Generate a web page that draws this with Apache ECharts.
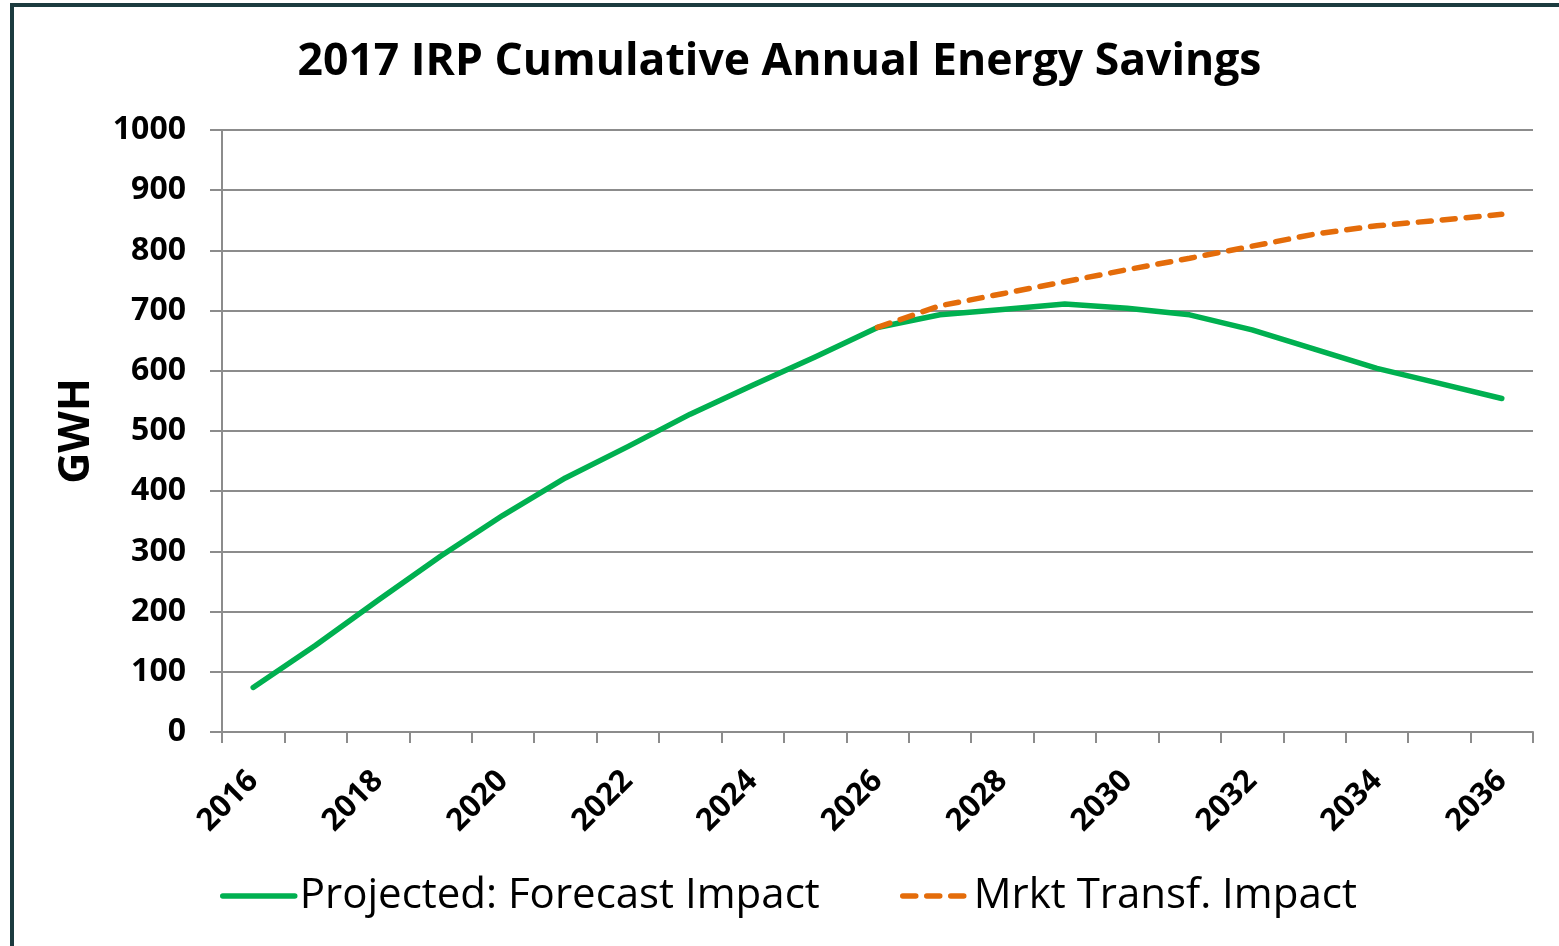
<!DOCTYPE html>
<html>
<head>
    <meta charset="utf-8" />
    <title>2017 IRP Cumulative Annual Energy Savings</title>
    <script src="https://cdn.jsdelivr.net/npm/echarts@6.0.0/dist/echarts.min.js"></script>
    <style>
        * { margin: 0; padding: 0; box-sizing: border-box }
        html, body { width: 1559px; height: 946px; overflow: hidden; background: #fff }
        .frame {
            position: absolute;
            left: 10px;
            top: 3px;
            width: 1600px;
            height: 1000px;
            border-left: 4px solid #1c3b3f;
            border-top: 4px solid #1c3b3f
        }
        #chart { position: absolute; left: 0; top: 0; width: 1559px; height: 946px }
    </style>
</head>
<body>
    <div class="frame"></div>
    <div id="chart"></div>

    <script>
        const years = ['2016', '2017', '2018', '2019', '2020', '2021', '2022', '2023', '2024', '2025', '2026',
            '2027', '2028', '2029', '2030', '2031', '2032', '2033', '2034', '2035', '2036'];
        const forecastImpact = [74, 144, 219, 292, 360, 422, 474, 528, 576, 623, 672,
            693, 702, 711, 704, 693, 668, 636, 604, 579, 554];
        const mrktTransfImpact = [null, null, null, null, null, null, null, null, null, null, 672,
            708, 728, 748, 768, 787, 807, 827, 841, 850, 860];
        const yTicks = { min: 0, max: 1000, interval: 100 };

        const font = "'Open Sans', 'Noto Sans', sans-serif";
        const gridColor = '#8c8c8c';

        const chart = echarts.init(document.getElementById('chart'));

        const legendText = { fontFamily: font, fontSize: 42, color: '#000' };

        const option = {
            animation: false,
            title: {
                text: '2017 IRP Cumulative Annual Energy Savings',
                left: 'center',
                top: 35,
                textStyle: { fontFamily: font, fontSize: 44.5, fontWeight: 'bold', color: '#000' }
            },
            legend: [
                {
                    data: ['Projected: Forecast Impact'],
                    left: 215,
                    top: 870,
                    itemWidth: 72,
                    itemHeight: 16,
                    itemGap: 6,
                    itemStyle: { opacity: 0 },
                    lineStyle: { width: 5.5 },
                    textStyle: legendText
                },
                {
                    data: ['Mrkt Transf. Impact'],
                    left: 895,
                    top: 870,
                    itemWidth: 66,
                    itemHeight: 16,
                    itemStyle: { opacity: 0 },
                    lineStyle: { width: 5.5 },
                    textStyle: legendText
                }
            ],
            grid: {
                left: 222,
                right: 26,
                top: 130,
                bottom: 214,
                containLabel: false
            },
            xAxis: {
                type: 'category',
                data: years,
                boundaryGap: true,
                axisLine: { lineStyle: { color: gridColor, width: 2 } },
                axisTick: { show: true, interval: 0, length: 11, lineStyle: { color: gridColor, width: 2 } },
                axisLabel: {
                    interval: 1,
                    rotate: 45,
                    margin: 44,
                    fontFamily: font,
                    fontSize: 31,
                    fontWeight: 'bold',
                    color: '#000'
                }
            },
            yAxis: {
                type: 'value',
                min: yTicks.min,
                max: yTicks.max,
                interval: yTicks.interval,
                name: 'GWH',
                nameLocation: 'middle',
                nameGap: 124,
                nameRotate: 90,
                nameTextStyle: { fontFamily: font, fontSize: 43, fontWeight: 'bold', color: '#000' },
                axisLine: { show: true, lineStyle: { color: gridColor, width: 2 } },
                axisTick: { show: true, length: 12, lineStyle: { color: gridColor, width: 2 } },
                axisLabel: {
                    margin: 36,
                    fontFamily: font,
                    fontSize: 32,
                    fontWeight: 'bold',
                    color: '#000',
                    formatter: function (v) { return String(v); }
                },
                splitLine: { lineStyle: { color: gridColor, width: 2 } }
            },
            series: [
                {
                    name: 'Projected: Forecast Impact',
                    type: 'line',
                    data: forecastImpact,
                    symbol: 'none',
                    lineStyle: { color: '#00b050', width: 5.5, cap: 'round', join: 'round' },
                    itemStyle: { color: '#00b050' },
                    z: 2
                },
                {
                    name: 'Mrkt Transf. Impact',
                    type: 'line',
                    data: mrktTransfImpact,
                    symbol: 'none',
                    lineStyle: { color: '#e46c0a', width: 5.5, type: [13, 11], cap: 'round' },
                    itemStyle: { color: '#e46c0a' },
                    z: 3
                }
            ]
        };

        chart.setOption(option);
    </script>
</body>
</html>
